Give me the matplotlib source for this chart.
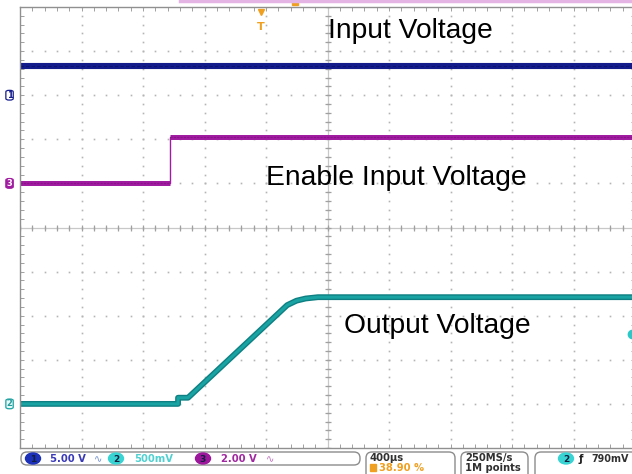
import numpy as np
import matplotlib
matplotlib.use("Agg")
import matplotlib.pyplot as plt
from matplotlib.patches import FancyBboxPatch, Ellipse

# scope settings
time_div = 400.0          # us per division
trig_div = 3.92           # trigger position, divisions from left edge
ch1_scale, ch1_off = 5.0, 3.0
ch2_scale, ch2_off = 0.5, -4.0
ch3_scale, ch3_off = 2.0, 1.0
trig_level = 0.79         # V on ch2

# traces (time in us, volts)
ch1_t = [-1570, 2450]
ch1_v = [3.3, 3.3]
ch3_t = [-1570, -590, -590, 2450]
ch3_v = [0.02, 0.02, 2.1, 2.1]
ch2_t = [-1570, -540, -540, -475, 170, 230, 290, 370, 2450]
ch2_v = [0.0, 0.0, 0.07, 0.07, 1.12, 1.17, 1.195, 1.21, 1.21]

labels = ['Input Voltage', 'Enable Input Voltage', 'Output Voltage']
label_pos = [(5.01, 4.30), (4.0, 0.96), (5.27, -2.4)]

C1 = '#141c8c'
C2 = '#1aa3a3'
C3 = '#a01ca0'
GRID = '#b4b4b4'


def xd(t):
    return np.asarray(t) / time_div + trig_div


def yd(v, scale, off):
    return np.asarray(v) / scale + off


fig = plt.figure(figsize=(6.32, 4.74), dpi=100)
fig.patch.set_facecolor('white')
ax = fig.add_axes([20 / 632, 26 / 474, 615 / 632, 441 / 474])
ax.set_xlim(0, 10)
ax.set_ylim(-5, 5)
for s in ax.spines.values():
    s.set_color('#909090')
    s.set_linewidth(1.0)
ax.set_xticks([])
ax.set_yticks([])
ax.set_xticks(np.arange(0, 10.01, 0.2), minor=True)
ax.set_yticks(np.arange(-5, 5.01, 0.2), minor=True)
ax.tick_params(which='minor', direction='in', length=3, color='#909090',
               top=True, right=True, labelbottom=False, labelleft=False)

# dotted graticule
minor = np.arange(0, 10.01, 0.2)
minor_y = np.arange(-5, 5.01, 0.2)
for gx in range(1, 10):
    ax.plot(np.full(len(minor_y), gx), minor_y, ls='none', marker='s',
            ms=1.2, color=GRID, mew=0)
for gy in range(-4, 5):
    ax.plot(minor, np.full(len(minor), gy), ls='none', marker='s',
            ms=1.2, color=GRID, mew=0)
# center crosshair with ticks
ax.axvline(5, color='#c8c8c8', lw=0.9)
ax.axhline(0, color='#c8c8c8', lw=0.9)
ax.plot(minor, np.zeros(len(minor)), ls='none', marker='|', ms=5,
        color='#a0a0a0', mew=0.9)
ax.plot(np.full(len(minor_y), 5), minor_y, ls='none', marker='_', ms=5,
        color='#a0a0a0', mew=0.9)

# traces
ax.plot(xd(ch1_t), yd(ch1_v, ch1_scale, ch1_off), color=C1, lw=4.4,
        solid_capstyle='butt')
ax.plot(xd(ch1_t), yd(ch1_v, ch1_scale, ch1_off), color='#0c1270', lw=0.8,
        ls=(0, (3, 2)))

x3 = xd(ch3_t)
y3 = yd(ch3_v, ch3_scale, ch3_off)
ax.plot(x3, y3, color=C3, lw=1.0)
ax.plot(x3[:2], y3[:2], color=C3, lw=3.6, solid_capstyle='butt')
ax.plot(x3[2:], y3[2:], color=C3, lw=3.6, solid_capstyle='butt')
ax.plot(x3[:2], y3[:2], color='#8c128c', lw=0.8, ls=(0, (2, 1)))
ax.plot(x3[2:], y3[2:], color='#8c128c', lw=0.8, ls=(0, (2, 1)))

ax.plot(xd(ch2_t), yd(ch2_v, ch2_scale, ch2_off), color='#0e7f82', lw=4.2,
        solid_capstyle='butt')
ax.plot(xd(ch2_t), yd(ch2_v, ch2_scale, ch2_off), color=C2, lw=2.2,
        solid_capstyle='butt')

# annotations
for txt, (lx, ly) in zip(labels, label_pos):
    ax.text(lx, ly, txt, fontsize=20.3, family='Liberation Sans',
            va='baseline', ha='left', color='black')

# channel ground markers
for n, off, ec, fc, tc in [('1', ch1_off, C1, 'white', C1),
                           ('3', ch3_off, C3, C3, 'white'),
                           ('2', ch2_off, C2, '#e6fafa', '#2a9a9a')]:
    ax.add_patch(FancyBboxPatch((-0.23, off - 0.11), 0.12, 0.22,
                                boxstyle='round,pad=0,rounding_size=0.05',
                                fc=fc, ec=ec, lw=0.9, clip_on=False,
                                mutation_aspect=0.7))
    ax.text(-0.17, off, n, fontsize=6, color=tc, ha='center', va='center',
            fontweight='bold', clip_on=False)

# trigger level marker on right edge
ax.plot([9.95], [yd(trig_level, ch2_scale, ch2_off)], marker='o', ms=6,
        color='#2cc8c8', clip_on=False)

# trigger position marker on top
ax.plot([trig_div], [4.88], marker='v', ms=5, color='#f0a020', clip_on=False)
ax.text(trig_div, 4.55, 'T', fontsize=8, color='#f0a020', ha='center',
        va='center', fontweight='bold', clip_on=False)

# overlay for screen chrome (pixel coordinates)
ov = fig.add_axes([0, 0, 1, 1], facecolor='none')
ov.set_xlim(0, 632)
ov.set_ylim(474, 0)
ov.axis('off')

ov.plot([180, 632], [1, 1], color='#e4b4e4', lw=2.5)
ov.add_patch(plt.Rectangle((292, 0), 6, 5, color='#f0a020'))


def box(x0, x1, y0=452, h=30):
    ov.add_patch(FancyBboxPatch((x0, y0), x1 - x0, h,
                                boxstyle='round,pad=0,rounding_size=6',
                                fc='white', ec='#8c8c8c', lw=1.0))


def chip(x, n, fc, tc='#102040'):
    ov.add_patch(Ellipse((x, 458.5), 15, 11, color=fc))
    ov.text(x, 459, n, fontsize=6.5, color=tc, ha='center', va='center',
            fontweight='bold')


fs = 7.2
ov.add_patch(FancyBboxPatch((21, 452), 339, 13,
                            boxstyle='round,pad=0,rounding_size=6',
                            fc='white', ec='#8c8c8c', lw=1.0))
chip(33, '1', '#1c30b8')
ov.text(50, 459, '5.00 V', fontsize=fs, color='#3a3ab8', fontweight='bold',
        va='center')
ov.text(94, 459, '∿', fontsize=fs, color='#7090d0', va='center',
        family='DejaVu Sans')
chip(116, '2', '#38d4d4')
ov.text(134, 459, '500mV', fontsize=fs, color='#50d0d0', fontweight='bold',
        va='center')
chip(203, '3', '#9c169c')
ov.text(221, 459, '2.00 V', fontsize=fs, color='#a028a0', fontweight='bold',
        va='center')
ov.text(266, 459, '∿', fontsize=fs, color='#c070c0', va='center',
        family='DejaVu Sans')

box(366, 455)
ov.text(370, 458, '400µs', fontsize=fs, color='#303030', fontweight='bold',
        va='center')
ov.add_patch(plt.Rectangle((370, 464), 6, 7, color='#f0a020'))
ov.text(379, 468, '38.90 %', fontsize=fs, color='#f0a020', fontweight='bold',
        va='center')

box(461, 528)
ov.text(465, 458, '250MS/s', fontsize=fs, color='#303030', fontweight='bold',
        va='center')
ov.text(465, 468, '1M points', fontsize=fs, color='#303030',
        fontweight='bold', va='center')

box(535, 660)
chip(566, '2', '#38d4d4')
ov.text(579, 459, 'ƒ', fontsize=fs, color='#202020', va='center',
        fontweight='bold', family='DejaVu Sans')
ov.text(591, 459, '790mV', fontsize=6.9, color='#303030', fontweight='bold',
        va='center')

fig.savefig('out.png', dpi=100)
